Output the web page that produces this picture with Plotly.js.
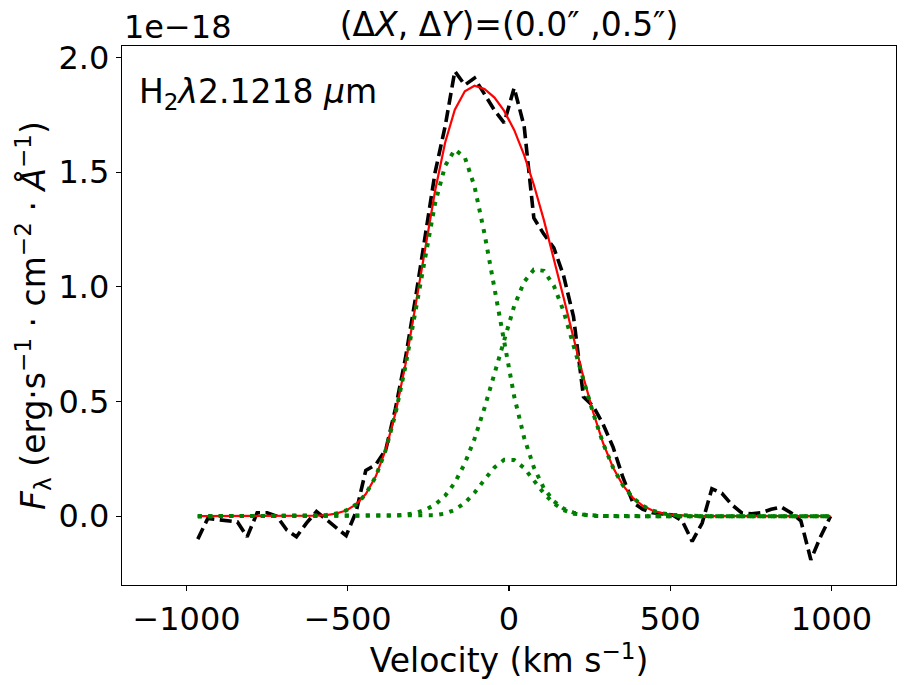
<!DOCTYPE html>
<html>
<head>
<meta charset="utf-8">
<script src="https://cdn.plot.ly/plotly-3.0.1.min.js"></script>
<style>html,body{margin:0;padding:0;background:#fff;}</style>
</head>
<body>
<div id="chart" style="width:909px;height:685px;"></div>
<script>
// Velocity grid (km/s)
const velocity = [-965,-934,-904,-873,-842,-812,-781,-750,-720,-689,-659,-628,-597,-566,-536,-505,-474,-444,-413,-382,-352,-321,-290,-260,-229,-198,-168,-137,-107,-76,-45,-15,16,47,77,108,139,169,200,231,261,292,323,353,384,415,445,476,507,537,568,599,629,660,691,721,752,783,813,844,874,905,936,966,997];

// Observed flux (units of 1e-18)
const observed = [-0.10,-0.01,-0.015,-0.02,-0.025,-0.09,0.015,0.015,0.0,-0.06,-0.09,-0.03,0.02,-0.015,-0.05,-0.085,0.02,0.20,0.225,0.29,0.47,0.69,0.95,1.22,1.50,1.70,1.94,1.88,1.91,1.84,1.77,1.715,1.867,1.70,1.30,1.23,1.17,1.05,0.87,0.52,0.48,0.40,0.30,0.17,0.06,0.03,0.015,0.01,0.005,-0.02,-0.11,-0.03,0.12,0.10,0.05,0.015,0.01,0.015,0.03,0.04,0.015,-0.02,-0.19,-0.09,0.0];

// Total fit (red)
const totalFit = [0,0,0,0,0,0,0,0,0,0,0.0003,0.0007,0.0020,0.0050,0.0115,0.0251,0.0516,0.0967,0.1735,0.2913,0.450,0.662,0.912,1.169,1.420,1.629,1.772,1.853,1.877,1.863,1.825,1.767,1.684,1.574,1.445,1.292,1.126,0.955,0.778,0.605,0.453,0.318,0.211,0.135,0.0804,0.0452,0.0245,0.0123,0.0058,0.0027,0.0011,0.0005,0.0002,0,0,0,0,0,0,0,0,0,0,0,0];

// Components (green dotted)
const comp1 = [0,0,0,0,0,0,0,0,0,0,0.0003,0.0007,0.0020,0.0050,0.0115,0.0251,0.0515,0.0965,0.173,0.290,0.447,0.655,0.897,1.140,1.365,1.528,1.598,1.565,1.438,1.232,0.987,0.746,0.523,0.342,0.213,0.122,0.0653,0.0334,0.0156,0.0068,0.0029,0.0011,0.0004,0,0,0,0,0,0,0,0,0,0,0,0,0,0,0,0,0,0,0,0,0,0];
const comp2 = [0,0,0,0,0,0,0,0,0,0,0,0,0,0,0,0,0.0001,0.0002,0.0005,0.0013,0.0030,0.0067,0.0141,0.0272,0.0508,0.0893,0.146,0.230,0.337,0.472,0.625,0.775,0.916,1.022,1.075,1.070,1.005,0.895,0.751,0.594,0.449,0.317,0.211,0.135,0.0804,0.0452,0.0245,0.0123,0.0058,0.0027,0.0011,0.0005,0.0002,0,0,0,0,0,0,0,0,0,0,0,0];
const comp3 = [0,0,0,0,0,0,0,0,0,0,0,0,0,0,0,0,0,0,0,0,0,0,0.0004,0.0013,0.0042,0.0117,0.0276,0.0577,0.102,0.159,0.213,0.246,0.245,0.210,0.157,0.100,0.0553,0.0269,0.011,0.0039,0.0012,0.0003,0,0,0,0,0,0,0,0,0,0,0,0,0,0,0,0,0,0,0,0,0,0,0];

// Ticks
const xTickVals = [-1000,-500,0,500,1000];
const yTickVals = [0,0.5,1.0,1.5,2.0];
const yTickText = ['0.0','0.5','1.0','1.5','2.0'];

const FONT = 'DejaVu Sans, sans-serif';

const traces = [
  {x: velocity, y: observed, mode: 'lines', line: {color: 'black', width: 3.6, dash: '12px,5.5px'}, hoverinfo: 'skip'},
  {x: velocity, y: totalFit, mode: 'lines', line: {color: '#ff0000', width: 2.2}, hoverinfo: 'skip'},
  {x: velocity, y: comp1, mode: 'lines', line: {color: '#008000', width: 4, dash: '4px,6.5px'}, hoverinfo: 'skip'},
  {x: velocity, y: comp2, mode: 'lines', line: {color: '#008000', width: 4, dash: '4px,6.5px'}, hoverinfo: 'skip'},
  {x: velocity, y: comp3, mode: 'lines', line: {color: '#008000', width: 4, dash: '4px,6.5px'}, hoverinfo: 'skip'}
];

const axisCommon = {
  showgrid: false, zeroline: false, showline: true, mirror: true,
  linecolor: 'black', linewidth: 1.2,
  ticks: 'outside', ticklen: 5, tickwidth: 1.2, tickcolor: 'black',
  tickfont: {family: FONT, size: 32, color: 'black'}
};

const layout = {
  width: 909, height: 685,
  margin: {l: 122, r: 13, t: 46, b: 100},
  paper_bgcolor: 'white', plot_bgcolor: 'white',
  showlegend: false,
  font: {family: FONT, color: 'black'},
  title: {
    text: '(Δ<i>X</i>, Δ<i>Y</i>)=(0.0″ ,0.5″)',
    font: {family: FONT, size: 33, color: 'black'},
    xref: 'paper', x: 0.5, xanchor: 'center',
    yref: 'container', y: 1 - 24/685, yanchor: 'middle'
  },
  xaxis: Object.assign({}, axisCommon, {
    range: [-1200, 1200],
    tickvals: xTickVals,
    title: {text: 'Velocity (km s<sup>−1</sup>)', font: {family: FONT, size: 33, color: 'black'}, standoff: 0}
  }),
  yaxis: Object.assign({}, axisCommon, {
    range: [-0.3, 2.05],
    tickvals: yTickVals, ticktext: yTickText,
    title: {text: '<i>F</i><sub>λ</sub> (erg·s<sup>−1</sup> · cm<sup>−2</sup> · <i>Å</i><sup>−1</sup>)', font: {family: FONT, size: 33, color: 'black'}, standoff: 3}
  }),
  annotations: [
    {text: '1e−18', xref: 'paper', yref: 'paper', x: 0, y: 1, xanchor: 'left', yanchor: 'bottom', yshift: -2, showarrow: false, font: {family: FONT, size: 32, color: 'black'}},
    {text: 'H<sub>2</sub><i>λ</i>2.1218 <i>µ</i>m', xref: 'paper', yref: 'paper', x: 0.02, y: 0.9128, xanchor: 'left', yanchor: 'middle', showarrow: false, font: {family: FONT, size: 33, color: 'black'}}
  ]
};

Plotly.newPlot('chart', traces, layout, {displayModeBar: false, staticPlot: true});
</script>
</body>
</html>
